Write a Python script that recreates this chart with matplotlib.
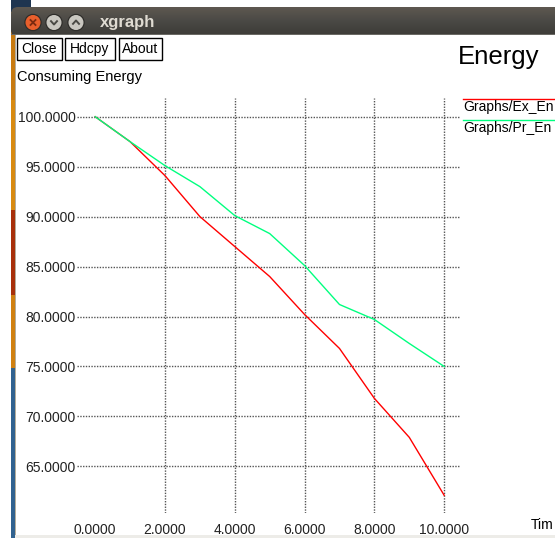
import matplotlib
matplotlib.use('Agg')
import matplotlib.pyplot as plt
import numpy as np
from matplotlib.patches import Rectangle, Circle, FancyBboxPatch

time = [0, 1, 2, 3, 4, 5, 6, 7, 8, 9, 10]
ex_energy = [100.0, 97.5, 94.1, 90.0, 87.0, 84.0, 80.2, 76.8, 71.8, 67.9, 62.1]
pr_energy = [100.0, 97.5, 95.1, 93.0, 90.1, 88.3, 85.1, 81.2, 79.7, 77.3, 75.0]
x_ticks = [0, 2, 4, 6, 8, 10]
y_ticks = [65, 70, 75, 80, 85, 90, 95, 100]
# legend / axis names as far as they are visible in the window
legend_names = ['Graphs/Ex_En', 'Graphs/Pr_En']
x_name = 'Tim'
buttons = ['Close', 'Hdcpy', 'About']

plt.rcParams['font.family'] = ['Liberation Sans', 'DejaVu Sans']

W, H = 555, 538
fig = plt.figure(figsize=(W / 100, H / 100), dpi=100)
fig.patch.set_facecolor('white')

# background axes in pixel units (y down) for the window chrome
bg = fig.add_axes([0, 0, 1, 1])
bg.set_xlim(0, W)
bg.set_ylim(H, 0)
bg.axis('off')

# desktop strip on the left
strip = [(0, 100, '#c87a10'), (100, 210, '#d88a10'), (210, 295, '#a8300a'),
         (295, 368, '#d08010'), (368, 538, '#31628f')]
for y0, y1, c in strip:
    bg.add_patch(Rectangle((11, y0), 4, y1 - y0, color=c, lw=0))
bg.add_patch(Rectangle((11, 0), 20, 12, color='#1f3550', lw=0))
bg.add_patch(Rectangle((15, 35), 1, 503, color='#b4ad9c', lw=0))
bg.add_patch(Rectangle((15, 535), 545, 3, color='#edece8', lw=0))

# title bar with gradient
tb = FancyBboxPatch((11, 7), 560, 30, boxstyle='round,pad=0,rounding_size=7',
                    facecolor='none', edgecolor='none')
bg.add_patch(tb)
grad = np.linspace(0, 1, 50).reshape(-1, 1)
im = bg.imshow(grad, cmap=matplotlib.colors.LinearSegmentedColormap.from_list(
    'tb', ['#5e5850', '#4a4945', '#3d3c38']), extent=[11, 571, 35, 7],
    aspect='auto', zorder=1)
im.set_clip_path(tb)
bg.set_xlim(0, W)
bg.set_ylim(H, 0)
bg.add_patch(Rectangle((11, 34), 560, 1, color='#6a6964', lw=0, zorder=2))

bg.add_patch(Circle((33, 22.5), 8, color='#2e2d2a', zorder=2))
bg.add_patch(Circle((33, 22.5), 6.8, color='#e85f2c', zorder=3))
bg.plot([30.5, 35.5], [20, 25], color='#7a2a10', lw=1.3, zorder=4)
bg.plot([30.5, 35.5], [25, 20], color='#7a2a10', lw=1.3, zorder=4)
for cx, up in [(54, False), (76, True)]:
    bg.add_patch(Circle((cx, 22.5), 8, color='#2e2d2a', zorder=2))
    bg.add_patch(Circle((cx, 22.5), 6.8, color='#c9c7c0', zorder=3))
    d = -2 if up else 2
    bg.plot([cx - 3, cx, cx + 3], [22.5 - d / 1.5, 22.5 + d, 22.5 - d / 1.5],
            color='#4a4944', lw=1.4, zorder=4)
bg.text(100, 23, 'xgraph', color='#dfdbd2', fontsize=12, fontweight='bold',
        va='center', ha='left', zorder=4)

# buttons
bx = [(16.5, 45), (65, 50), (118.5, 43)]
for (x0, w), name in zip(bx, buttons):
    bg.add_patch(Rectangle((x0, 37.5), w, 22.5, facecolor='white',
                           edgecolor='black', lw=1, zorder=2))
    bg.text(x0 + w / 2, 49, name, fontsize=10, ha='center', va='center', zorder=3)

bg.text(17, 76.5, 'Consuming Energy', fontsize=10.5, ha='left', va='center')
bg.text(458, 57, 'Energy', fontsize=18.5, ha='left', va='center')

# legend
bg.plot([463, 560], [98.5, 98.5], color='#ff0000', lw=1)
bg.text(463, 106.5, legend_names[0], fontsize=10, ha='left', va='center')
bg.plot([463, 560], [119.5, 119.5], color='#00ff7f', lw=1)
bg.text(463, 128, legend_names[1], fontsize=10, ha='left', va='center')
bg.text(531, 525, x_name, fontsize=10, ha='left', va='center')

# plot area
px_l, px_r, px_t, px_b = 77, 460, 98, 513
ax = fig.add_axes([px_l / W, 1 - px_b / H, (px_r - px_l) / W, (px_b - px_t) / H])
ax.patch.set_alpha(0)
x0px, xs = 95.2, 34.9
y100, ys = 116.7, 9.99
ax.set_xlim((px_l - x0px) / xs, (px_r - x0px) / xs)
ax.set_ylim(100 - (px_b - y100) / ys, 100 + (y100 - px_t) / ys)
for s in ax.spines.values():
    s.set_visible(False)
ax.set_xticks(x_ticks)
ax.set_yticks(y_ticks)
ax.set_xticklabels(['%.4f' % v for v in x_ticks])
ax.set_yticklabels(['%.4f' % v for v in y_ticks])
ax.tick_params(length=0, labelsize=10, labelcolor='#222222')
ax.tick_params(axis='x', pad=7)
ax.tick_params(axis='y', pad=1)
ax.grid(True, color='#555555', linestyle=(0, (1, 1)), lw=1)
ax.get_xgridlines()[0].set_visible(False)

ax.plot(time, ex_energy, color='#ff0000', lw=1)
ax.plot(time, pr_energy, color='#00ff7f', lw=1)

fig.savefig('out.png', dpi=100)
